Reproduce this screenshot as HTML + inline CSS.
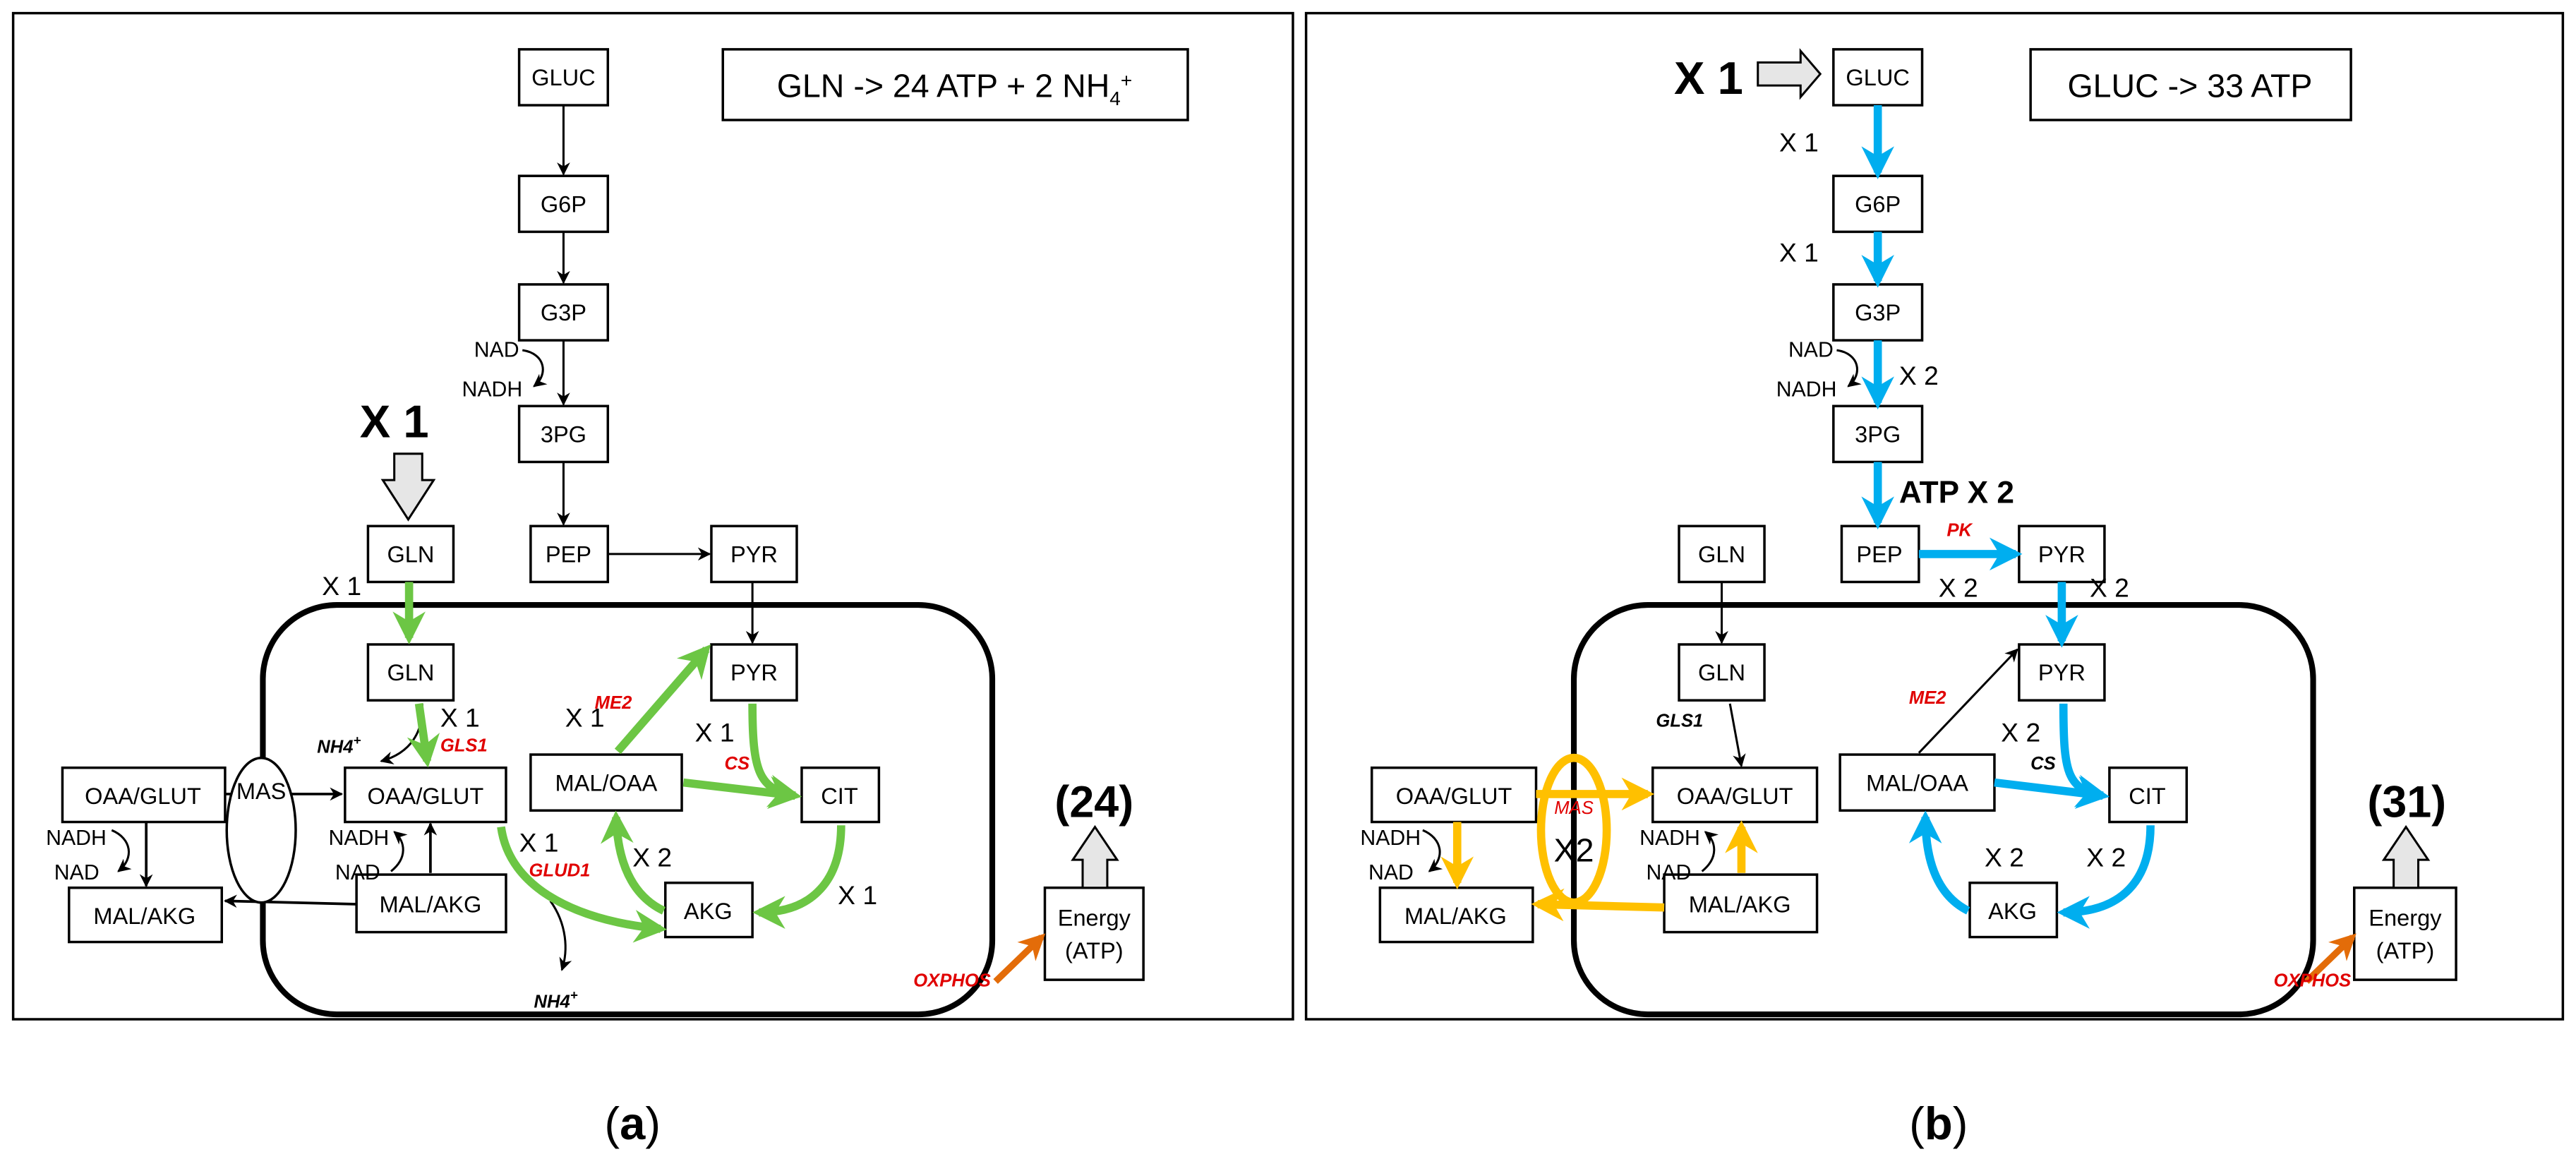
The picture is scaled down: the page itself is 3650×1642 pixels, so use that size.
<!DOCTYPE html>
<html><head><meta charset="utf-8"><style>
html,body{margin:0;padding:0;background:#fff;}
svg{display:block;}
text{font-family:"Liberation Sans",sans-serif;}
.b{font-size:14px;text-anchor:middle;}
.x{font-size:16px;}
.r{fill:#e00000;font-style:italic;font-weight:bold;font-size:11px;}
.k{font-style:italic;font-weight:bold;font-size:11px;}
.n{font-size:13px;}
</style></head><body>
<svg width="3650" height="1642" viewBox="0 0 1568 705" preserveAspectRatio="none" xmlns="http://www.w3.org/2000/svg">
<defs>
<marker id="ak" viewBox="0 0 10 10" refX="9" refY="5" markerWidth="8" markerHeight="8" markerUnits="userSpaceOnUse" orient="auto"><path d="M0,0 L10,5 L0,10 L3,5 z" fill="#000"/></marker>
<marker id="ag" viewBox="0 0 10 10" refX="8" refY="5" markerWidth="4" markerHeight="4" orient="auto"><path d="M0,0 L10,5 L0,10 L3,5 z" fill="#6cc644"/></marker>
<marker id="ab" viewBox="0 0 10 10" refX="8" refY="5" markerWidth="4" markerHeight="4" orient="auto"><path d="M0,0 L10,5 L0,10 L3,5 z" fill="#00aeef"/></marker>
<marker id="ay" viewBox="0 0 10 10" refX="8" refY="5" markerWidth="4" markerHeight="4" orient="auto"><path d="M0,0 L10,5 L0,10 L3,5 z" fill="#ffc000"/></marker>
<marker id="ao" viewBox="0 0 10 10" refX="8" refY="5" markerWidth="4" markerHeight="4" orient="auto"><path d="M0,0 L10,5 L0,10 L3,5 z" fill="#e36c09"/></marker>
</defs>

<!-- ===== PANEL A ===== -->
<rect x="8" y="8" width="779" height="612" fill="none" stroke="#000" stroke-width="1.5"/>
<rect x="160" y="368" width="444" height="249" rx="45" fill="none" stroke="#000" stroke-width="3.5"/>
<rect x="440" y="30" width="283" height="43" fill="#fff" stroke="#000" stroke-width="1.5"/>
<text x="581" y="59" font-size="20" text-anchor="middle">GLN -&gt; 24 ATP + 2 NH<tspan font-size="12" dy="5">4</tspan><tspan font-size="12" dy="-11">+</tspan></text>

<g fill="#fff" stroke="#000" stroke-width="1.5">
<rect x="316" y="30" width="54" height="34"/>
<rect x="316" y="107" width="54" height="34"/>
<rect x="316" y="173" width="54" height="34"/>
<rect x="316" y="247" width="54" height="34"/>
<rect x="323" y="320" width="47" height="34"/>
<rect x="433" y="320" width="52" height="34"/>
<rect x="224" y="320" width="52" height="34"/>
<rect x="224" y="392" width="52" height="34"/>
<rect x="433" y="392" width="52" height="34"/>
<rect x="210" y="467" width="98" height="33"/>
<rect x="323" y="459" width="92" height="34"/>
<rect x="488" y="467" width="47" height="33"/>
<rect x="405" y="537" width="53" height="33"/>
<rect x="217" y="532" width="91" height="35"/>
<rect x="38" y="467" width="99" height="33"/>
<rect x="42" y="540" width="93" height="33"/>
<rect x="636" y="540" width="60" height="56"/>
</g>
<g class="b">
<text x="343" y="52">GLUC</text><text x="343" y="129">G6P</text><text x="343" y="195">G3P</text><text x="343" y="269">3PG</text>
<text x="346" y="342">PEP</text><text x="459" y="342">PYR</text><text x="250" y="342">GLN</text><text x="250" y="414">GLN</text>
<text x="459" y="414">PYR</text><text x="259" y="489">OAA/GLUT</text><text x="369" y="481">MAL/OAA</text><text x="511" y="489">CIT</text>
<text x="431" y="559">AKG</text><text x="262" y="555">MAL/AKG</text><text x="87" y="489">OAA/GLUT</text><text x="88" y="562">MAL/AKG</text>
<text x="666" y="563">Energy</text><text x="666" y="583">(ATP)</text>
</g>
<g stroke="#000" stroke-width="1.3" fill="none" marker-end="url(#ak)">
<line x1="343" y1="64" x2="343" y2="106"/><line x1="343" y1="141" x2="343" y2="172"/>
<line x1="343" y1="207" x2="343" y2="246"/><line x1="343" y1="281" x2="343" y2="319"/>
<line x1="370" y1="337" x2="432" y2="337"/><line x1="458" y1="354" x2="458" y2="391"/>
<path d="M257,428 C258,445 250,458 232,463"/>
<path d="M335,548 C345,562 346,578 342,590"/>
<path d="M68,505 C80,510 82,522 72,530"/>
<path d="M238,530 C248,522 247,512 240,506"/>
<path d="M318,213 C332,215 334,228 325,235"/>
</g>
<g stroke="#000" stroke-width="1.6" fill="none" marker-end="url(#ak)">
<line x1="137" y1="483" x2="208" y2="483"/><line x1="217" y1="550" x2="137" y2="548"/>
<line x1="89" y1="500" x2="89" y2="539"/><line x1="262" y1="531" x2="262" y2="501"/>
</g>
<ellipse cx="159" cy="505" rx="21" ry="44" fill="#fff" stroke="#000" stroke-width="1.5"/>
<text x="159" y="486" class="b" font-size="13">MAS</text>
<g stroke="#6cc644" stroke-width="5" fill="none" marker-end="url(#ag)">
<line x1="249" y1="354" x2="249" y2="388"/>
<line x1="255" y1="428" x2="260" y2="463"/>
<line x1="376" y1="457" x2="430" y2="395"/>
<path d="M458,428 C458,470 462,480 484,484"/>
<line x1="416" y1="476" x2="484" y2="484"/>
<path d="M512,502 C512,535 495,555 462,555"/>
<path d="M404,554 C385,545 376,525 375,497"/>
<path d="M305,503 C310,540 350,560 402,565"/>
</g>
<path d="M606,597 L634,570" stroke="#e36c09" stroke-width="4" fill="none" marker-end="url(#ao)"/>
<path d="M240,276 L257,276 L257,292 L264,292 L248.5,316 L233,292 L240,292 Z" fill="#e6e6e6" stroke="#000" stroke-width="1.3"/>
<path d="M659,540 L674,540 L674,523 L680,523 L666.5,503 L653,523 L659,523 Z" fill="#e6e6e6" stroke="#000" stroke-width="1.3"/>
<text x="240" y="266" font-size="28" font-weight="bold" text-anchor="middle">X 1</text>
<text x="666" y="497" font-size="27" font-weight="bold" text-anchor="middle">(24)</text>
<text x="196" y="362" class="x">X 1</text>
<text x="268" y="442" class="x">X 1</text><text x="268" y="457" class="r">GLS1</text>
<text x="193" y="458" class="k">NH4<tspan font-size="8" dy="-5">+</tspan></text>
<text x="344" y="442" class="x">X 1</text><text x="362" y="431" class="r">ME2</text>
<text x="423" y="451" class="x">X 1</text><text x="441" y="468" class="r">CS</text>
<text x="316" y="518" class="x">X 1</text><text x="322" y="533" class="r">GLUD1</text>
<text x="385" y="527" class="x">X 2</text>
<text x="510" y="550" class="x">X 1</text>
<text x="325" y="613" class="k">NH4<tspan font-size="8" dy="-5">+</tspan></text>
<text x="556" y="600" class="r">OXPHOS</text>
<text x="28" y="514" class="n">NADH</text><text x="33" y="535" class="n">NAD</text>
<text x="200" y="514" class="n">NADH</text><text x="204" y="535" class="n">NAD</text>
<text x="316" y="217" class="n" text-anchor="end">NAD</text>
<text x="318" y="241" class="n" text-anchor="end">NADH</text>

<!-- ===== PANEL B ===== -->
<rect x="795" y="8" width="765" height="612" fill="none" stroke="#000" stroke-width="1.5"/>
<rect x="958" y="368" width="450" height="249" rx="45" fill="none" stroke="#000" stroke-width="3.5"/>
<rect x="1236" y="30" width="195" height="43" fill="#fff" stroke="#000" stroke-width="1.5"/>
<text x="1333" y="59" font-size="20" text-anchor="middle">GLUC -&gt; 33 ATP</text>
<g fill="#fff" stroke="#000" stroke-width="1.5">
<rect x="1116" y="30" width="54" height="34"/>
<rect x="1116" y="107" width="54" height="34"/>
<rect x="1116" y="173" width="54" height="34"/>
<rect x="1116" y="247" width="54" height="34"/>
<rect x="1121" y="320" width="47" height="34"/>
<rect x="1229" y="320" width="52" height="34"/>
<rect x="1022" y="320" width="52" height="34"/>
<rect x="1022" y="392" width="52" height="34"/>
<rect x="1229" y="392" width="52" height="34"/>
<rect x="1006" y="467" width="100" height="33"/>
<rect x="1120" y="459" width="94" height="34"/>
<rect x="1284" y="467" width="47" height="33"/>
<rect x="1199" y="537" width="53" height="33"/>
<rect x="1013" y="532" width="93" height="35"/>
<rect x="835" y="467" width="100" height="33"/>
<rect x="840" y="540" width="93" height="33"/>
<rect x="1433" y="540" width="62" height="56"/>
</g>
<g class="b">
<text x="1143" y="52">GLUC</text><text x="1143" y="129">G6P</text><text x="1143" y="195">G3P</text><text x="1143" y="269">3PG</text>
<text x="1144" y="342">PEP</text><text x="1255" y="342">PYR</text><text x="1048" y="342">GLN</text><text x="1048" y="414">GLN</text>
<text x="1255" y="414">PYR</text><text x="1056" y="489">OAA/GLUT</text><text x="1167" y="481">MAL/OAA</text><text x="1307" y="489">CIT</text>
<text x="1225" y="559">AKG</text><text x="1059" y="555">MAL/AKG</text><text x="885" y="489">OAA/GLUT</text><text x="886" y="562">MAL/AKG</text>
<text x="1464" y="563">Energy</text><text x="1464" y="583">(ATP)</text>
</g>
<g stroke="#000" stroke-width="1.3" fill="none" marker-end="url(#ak)">
<line x1="1048" y1="354" x2="1048" y2="391"/>
<line x1="1053" y1="428" x2="1060" y2="466"/>
<line x1="1168" y1="458" x2="1228" y2="395"/>
<path d="M1118,213 C1132,215 1134,228 1125,235"/>
<path d="M866,505 C878,510 880,522 870,530"/>
<path d="M1036,530 C1046,522 1045,512 1038,506"/>
</g>
<g stroke="#00aeef" stroke-width="5" fill="none" marker-end="url(#ab)">
<line x1="1143" y1="64" x2="1143" y2="105"/><line x1="1143" y1="141" x2="1143" y2="171"/>
<line x1="1143" y1="207" x2="1143" y2="245"/><line x1="1143" y1="281" x2="1143" y2="318"/>
<line x1="1168" y1="337" x2="1227" y2="337"/>
<line x1="1255" y1="354" x2="1255" y2="390"/>
<path d="M1256,428 C1256,470 1258,480 1280,484"/>
<line x1="1214" y1="476" x2="1280" y2="484"/>
<path d="M1309,502 C1309,535 1292,555 1256,555"/>
<path d="M1198,554 C1180,545 1172,525 1172,497"/>
</g>
<ellipse cx="958" cy="505" rx="20" ry="44" fill="none" stroke="#ffc000" stroke-width="5"/>
<g stroke="#ffc000" stroke-width="5" fill="none" marker-end="url(#ay)">
<line x1="935" y1="483" x2="1003" y2="483"/>
<line x1="1013" y1="552" x2="936" y2="550"/>
<line x1="887" y1="500" x2="887" y2="537"/>
<line x1="1060" y1="531" x2="1060" y2="503"/>
</g>
<path d="M1404,597 L1432,570" stroke="#e36c09" stroke-width="4" fill="none" marker-end="url(#ao)"/>
<path d="M1070,38 L1096,38 L1096,31 L1108,45 L1096,59 L1096,52 L1070,52 Z" fill="#e6e6e6" stroke="#000" stroke-width="1.3"/>
<path d="M1457,540 L1472,540 L1472,523 L1478,523 L1464.5,503 L1451,523 L1457,523 Z" fill="#e6e6e6" stroke="#000" stroke-width="1.3"/>
<text x="1040" y="57" font-size="28" font-weight="bold" text-anchor="middle">X 1</text>
<text x="1465" y="497" font-size="27" font-weight="bold" text-anchor="middle">(31)</text>
<text x="1083" y="92" class="x">X 1</text><text x="1083" y="159" class="x">X 1</text>
<text x="1116" y="217" class="n" text-anchor="end">NAD</text><text x="1118" y="241" class="n" text-anchor="end">NADH</text>
<text x="1156" y="234" class="x">X 2</text>
<text x="1156" y="306" font-size="19" font-weight="bold">ATP X 2</text>
<text x="1185" y="326" class="r">PK</text>
<text x="1180" y="363" class="x">X 2</text><text x="1272" y="363" class="x">X 2</text>
<text x="1008" y="442" class="k">GLS1</text>
<text x="1162" y="428" class="r">ME2</text>
<text x="1218" y="451" class="x">X 2</text><text x="1236" y="468" class="k">CS</text>
<text x="1208" y="527" class="x">X 2</text><text x="1270" y="527" class="x">X 2</text>
<text x="1384" y="600" class="r">OXPHOS</text>
<text x="958" y="495" class="r" text-anchor="middle" style="font-weight:normal">MAS</text>
<text x="958" y="524" font-size="20" text-anchor="middle">X2</text>
<text x="828" y="514" class="n">NADH</text><text x="833" y="535" class="n">NAD</text>
<text x="998" y="514" class="n">NADH</text><text x="1002" y="535" class="n">NAD</text>

<text x="385" y="693" font-family="Liberation Serif,serif" font-size="28" text-anchor="middle">(<tspan font-weight="bold">a</tspan>)</text>
<text x="1180" y="693" font-family="Liberation Serif,serif" font-size="28" text-anchor="middle">(<tspan font-weight="bold">b</tspan>)</text>
</svg>
</body></html>
